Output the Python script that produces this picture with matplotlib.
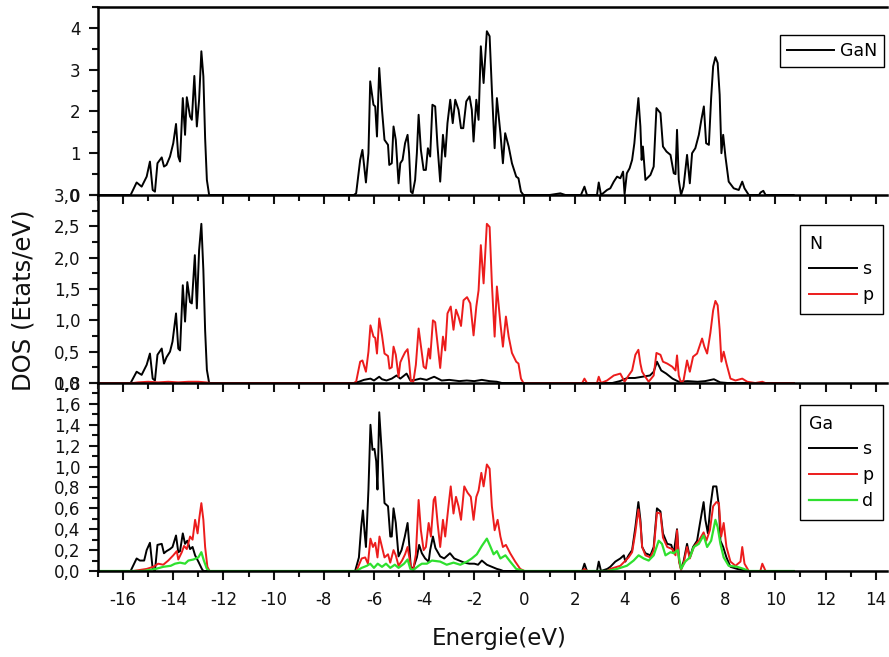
import numpy as np
import matplotlib
matplotlib.use('Agg')
import matplotlib.pyplot as plt
from matplotlib.ticker import MultipleLocator, FuncFormatter

plt.rcParams['font.family'] = ['DejaVu Sans']
plt.rcParams['axes.unicode_minus'] = False

# ---- data (energy in eV, DOS in states/eV) ----
gan_e = [-17, -15.7, -15.46, -15.26, -15.06, -14.93, -14.82, -14.73, -14.63, -14.46, -14.37, -14.27,
         -14.13, -14.0, -13.89, -13.8, -13.73, -13.62, -13.53, -13.46, -13.33, -13.26, -13.16, -13.06,
         -12.97, -12.88, -12.8, -12.73, -12.66, -12.57,
         -6.8, -6.71, -6.55, -6.46, -6.32, -6.22, -6.15, -6.02, -5.95, -5.88, -5.79, -5.68, -5.58, -5.44,
         -5.39, -5.29, -5.22, -5.13, -5.02, -4.95, -4.86, -4.76, -4.66, -4.6, -4.53, -4.46, -4.36, -4.29,
         -4.22, -4.13, -4.02, -3.93, -3.85, -3.76, -3.67, -3.56, -3.47, -3.36, -3.25, -3.16, -3.07, -2.96,
         -2.86, -2.76, -2.63, -2.53, -2.44, -2.32, -2.19, -2.1, -2.03, -1.92, -1.83, -1.74, -1.63, -1.5,
         -1.39, -1.3, -1.19, -1.1, -0.96, -0.86, -0.77, -0.63, -0.5, -0.33, -0.24, -0.14, -0.04,
         1.0, 1.43, 1.63, 2.25, 2.39, 2.49, 2.89, 2.96, 3.05, 3.29, 3.42, 3.56, 3.69, 3.82, 3.93, 3.99,
         4.08, 4.19, 4.29, 4.38, 4.46, 4.54, 4.62, 4.67, 4.72, 4.82, 5.02, 5.15, 5.26, 5.42, 5.52, 5.66,
         5.82, 5.95, 6.02, 6.08, 6.15, 6.24, 6.34, 6.48, 6.59, 6.68, 6.81, 6.95, 7.05, 7.15, 7.24, 7.35,
         7.44, 7.52, 7.61, 7.7, 7.78, 7.85, 7.92, 8.01, 8.14, 8.34, 8.54, 8.68, 8.77, 8.94, 9.35, 9.41,
         9.52, 9.61, 10.73]
gan_dos = [0, 0, 0.30, 0.20, 0.44, 0.80, 0.12, 0.08, 0.76, 0.90, 0.68, 0.72,
           0.92, 1.24, 1.70, 0.92, 0.80, 2.32, 1.44, 2.34, 1.88, 1.80, 2.85, 1.64,
           2.28, 3.44, 2.84, 1.36, 0.36, 0,
           0, 0.04, 0.84, 1.08, 0.30, 1.00, 2.72, 2.16, 2.12, 1.40, 3.04, 2.04, 1.32, 1.20,
           0.72, 0.76, 1.64, 1.32, 0.28, 0.76, 0.84, 1.24, 1.44, 1.00, 0.08, 0.04, 0.36, 1.00,
           1.92, 1.08, 0.60, 0.60, 1.12, 0.92, 2.16, 2.12, 1.20, 0.32, 1.44, 0.92, 1.72, 2.28,
           1.72, 2.28, 2.04, 1.60, 1.60, 2.24, 2.36, 2.04, 1.28, 2.28, 1.80, 3.56, 2.68, 3.92,
           3.80, 2.52, 1.12, 2.32, 1.48, 0.76, 1.48, 1.16, 0.76, 0.44, 0.40, 0.08, 0,
           0, 0.04, 0, 0, 0.20, 0, 0, 0.30, 0, 0.12, 0.16, 0.32, 0.44, 0.40, 0.56, 0.02,
           0.52, 0.64, 0.84, 1.24, 1.80, 2.32, 1.64, 0.84, 1.16, 0.36, 0.48, 0.68, 2.08, 1.96, 1.16, 1.04,
           0.96, 0.52, 0.50, 1.56, 0.36, 0, 0.20, 0.96, 0.28, 1.00, 1.12, 1.44, 1.80, 2.12, 1.24, 1.20,
           2.32, 3.08, 3.30, 3.16, 2.40, 1.00, 1.44, 0.92, 0.32, 0.16, 0.12, 0.32, 0.16, 0, 0, 0.06,
           0.10, 0, 0]

n_s_e = [-17, -15.7, -15.46, -15.26, -15.06, -14.93, -14.82, -14.73, -14.63, -14.46, -14.37, -14.27,
         -14.13, -14.03, -13.89, -13.8, -13.73, -13.62, -13.53, -13.44, -13.33, -13.26, -13.14, -13.06,
         -12.97, -12.88, -12.8, -12.73, -12.66, -12.57,
         -6.8, -6.6, -6.4, -6.14, -6.0, -5.79, -5.68, -5.5, -5.29, -5.1, -4.95, -4.7, -4.55, -4.35,
         -4.15, -3.9, -3.6, -3.3, -3.0, -2.6, -2.3, -2.0, -1.7, -1.4, -1.1, -0.9,
         3.5, 3.8, 4.1, 4.4, 4.7, 5.0, 5.15, 5.28, 5.45, 5.65, 5.9, 6.15, 6.5, 6.9, 7.2, 7.55, 7.8,
         8.1, 10.73]
n_s_dos = [0, 0, 0.18, 0.13, 0.29, 0.47, 0.07, 0.04, 0.45, 0.55, 0.31, 0.41,
           0.50, 0.66, 1.11, 0.55, 0.52, 1.56, 0.98, 1.61, 1.29, 1.27, 2.04, 1.19,
           2.12, 2.54, 1.80, 0.84, 0.21, 0,
           0, 0.02, 0.05, 0.07, 0.04, 0.10, 0.06, 0.04, 0.07, 0.12, 0.07, 0.15, 0.04, 0.05,
           0.07, 0.05, 0.10, 0.04, 0.05, 0.03, 0.04, 0.03, 0.05, 0.03, 0.02, 0,
           0, 0.03, 0.08, 0.08, 0.10, 0.12, 0.18, 0.34, 0.20, 0.15, 0.07, 0.02, 0.03, 0.02, 0.03, 0.06, 0.01,
           0, 0]

n_p_e = [-17, -15.6, -15.4, -15.0, -14.6, -14.2, -13.8, -13.4, -13.0, -12.7, -12.5,
         -6.8, -6.71, -6.55, -6.46, -6.32, -6.22, -6.14, -6.02, -5.95, -5.88, -5.79, -5.68, -5.58, -5.44,
         -5.38, -5.29, -5.22, -5.13, -5.02, -4.95, -4.86, -4.76, -4.66, -4.6, -4.53, -4.43, -4.33, -4.22,
         -4.13, -4.02, -3.93, -3.82, -3.76, -3.65, -3.56, -3.46, -3.36, -3.25, -3.16, -3.07, -2.94, -2.83,
         -2.73, -2.63, -2.53, -2.43, -2.29, -2.16, -2.03, -1.92, -1.83, -1.74, -1.63, -1.5, -1.39, -1.3,
         -1.19, -1.1, -0.96, -0.86, -0.74, -0.63, -0.5, -0.33, -0.24, -0.14, -0.04,
         2.3, 2.39, 2.49, 2.89, 2.96, 3.05, 3.29, 3.56, 3.82, 3.99, 4.15, 4.29, 4.42, 4.54, 4.62, 4.69,
         4.78, 4.95, 5.15, 5.26, 5.42, 5.52, 5.69, 5.89, 6.02, 6.08, 6.15, 6.24, 6.34, 6.48, 6.59, 6.72,
         6.88, 7.08, 7.17, 7.28, 7.41, 7.52, 7.61, 7.7, 7.78, 7.85, 7.94, 8.05, 8.21, 8.41, 8.68, 8.88,
         9.2, 9.48, 9.6, 10.73]
n_p_dos = [0, 0, 0.01, 0.02, 0.01, 0.02, 0.01, 0.02, 0.02, 0.01, 0,
           0, 0.02, 0.34, 0.36, 0.18, 0.50, 0.92, 0.74, 0.72, 0.47, 1.03, 0.76, 0.47, 0.43,
           0.23, 0.25, 0.58, 0.45, 0.10, 0.33, 0.41, 0.49, 0.54, 0.34, 0.03, 0.02, 0.29, 0.87,
           0.60, 0.26, 0.23, 0.55, 0.39, 1.00, 0.97, 0.60, 0.24, 0.74, 0.52, 1.11, 1.22, 0.85,
           1.17, 1.06, 0.91, 1.32, 1.37, 1.27, 0.76, 1.22, 1.48, 2.20, 1.59, 2.54, 2.49, 1.59,
           0.74, 1.54, 0.95, 0.58, 1.06, 0.74, 0.48, 0.34, 0.31, 0.07, 0,
           0, 0.07, 0, 0, 0.10, 0, 0.04, 0.12, 0.15, 0.02, 0.12, 0.20, 0.45, 0.53, 0.31, 0.18,
           0.12, 0.02, 0.12, 0.48, 0.45, 0.34, 0.31, 0.26, 0.20, 0.44, 0.12, 0, 0.04, 0.36, 0.18, 0.42,
           0.47, 0.71, 0.58, 0.47, 0.80, 1.16, 1.31, 1.24, 0.85, 0.34, 0.50, 0.31, 0.07, 0.04, 0.07, 0.02,
           0, 0.02, 0, 0]

ga_s_e = [-17, -15.7, -15.46, -15.33, -15.16, -15.06, -14.93, -14.82, -14.73, -14.63, -14.46, -14.37,
          -14.27, -14.13, -14.03, -13.89, -13.8, -13.73, -13.62, -13.53, -13.44, -13.33, -13.23, -13.13,
          -13.0, -12.86, -12.8,
          -6.75, -6.6, -6.51, -6.44, -6.37, -6.32, -6.22, -6.14, -6.06, -5.98, -5.91, -5.86, -5.79, -5.68,
          -5.58, -5.44, -5.35, -5.29, -5.22, -5.13, -5.02, -4.9, -4.77, -4.66, -4.6, -4.53, -4.43, -4.29,
          -4.2, -4.09, -3.96, -3.82, -3.76, -3.65, -3.55, -3.36, -3.2, -2.97, -2.8, -2.6, -2.4, -2.2,
          -2.0, -1.85, -1.7, -1.5, -1.3, -1.1, -0.95, -0.85,
          2.3, 2.39, 2.49, 2.89, 2.96, 3.05, 3.3, 3.42, 3.62, 3.82, 3.96, 4.02, 4.15, 4.29, 4.42, 4.54,
          4.62, 4.69, 4.82, 5.02, 5.15, 5.28, 5.42, 5.52, 5.69, 5.85, 5.95, 6.08, 6.16, 6.24, 6.34, 6.48,
          6.59, 6.72, 6.88, 6.99, 7.14, 7.21, 7.31, 7.41, 7.52, 7.65, 7.75, 7.81, 7.92, 8.05, 8.21, 8.48,
          8.88, 10.73]
ga_s_dos = [0, 0, 0.12, 0.10, 0.10, 0.20, 0.27, 0.02, 0, 0.25, 0.26, 0.17,
            0.19, 0.21, 0.23, 0.34, 0.18, 0.19, 0.36, 0.26, 0.29, 0.21, 0.23, 0.15,
            0.09, 0.02, 0,
            0, 0.13, 0.42, 0.58, 0.36, 0.23, 0.78, 1.40, 1.16, 1.17, 1.05, 0.78, 1.52, 1.10,
            0.65, 0.62, 0.33, 0.33, 0.60, 0.46, 0.14, 0.20, 0.33, 0.46, 0.27, 0.03, 0.03, 0.13,
            0.25, 0.17, 0.12, 0.09, 0.20, 0.33, 0.22, 0.14, 0.12, 0.17, 0.12, 0.10, 0.08, 0.07,
            0.07, 0.06, 0.10, 0.06, 0.04, 0.02, 0.01, 0,
            0, 0.07, 0, 0, 0.09, 0, 0.02, 0.04, 0.09, 0.12, 0.15, 0.09, 0.15, 0.20, 0.42, 0.66,
            0.49, 0.23, 0.17, 0.15, 0.23, 0.60, 0.57, 0.36, 0.26, 0.25, 0.17, 0.40, 0.10, 0.02, 0.09, 0.26,
            0.13, 0.23, 0.29, 0.45, 0.66, 0.49, 0.36, 0.62, 0.81, 0.81, 0.62, 0.29, 0.23, 0.13, 0.04, 0.02,
            0, 0]

ga_p_e = [-17, -15.6, -15.06, -14.8, -14.6, -14.4, -14.2, -14.0, -13.86, -13.8, -13.66, -13.57,
          -13.46, -13.33, -13.23, -13.13, -13.03, -12.96, -12.88, -12.8, -12.73, -12.64, -12.55,
          -6.7, -6.49, -6.35, -6.24, -6.14, -6.04, -5.95, -5.86, -5.78, -5.68, -5.58, -5.44, -5.35, -5.22,
          -5.13, -5.02, -4.88, -4.76, -4.66, -4.59, -4.52, -4.43, -4.33, -4.22, -4.13, -4.02, -3.93, -3.82,
          -3.73, -3.62, -3.56, -3.46, -3.36, -3.25, -3.16, -3.03, -2.94, -2.83, -2.73, -2.63, -2.53, -2.4,
          -2.27, -2.14, -2.03, -1.92, -1.83, -1.72, -1.63, -1.5, -1.39, -1.3, -1.19, -1.07, -0.96, -0.86,
          -0.74, -0.57, -0.37, -0.17, 0.0,
          2.3, 2.39, 2.5, 3.3, 3.42, 3.82, 4.15, 4.29, 4.42, 4.54, 4.62, 4.69, 4.82, 5.02, 5.15, 5.28,
          5.42, 5.52, 5.69, 5.89, 6.02, 6.08, 6.16, 6.24, 6.34, 6.48, 6.59, 6.75, 6.95, 7.14, 7.25, 7.39,
          7.52, 7.65, 7.75, 7.84, 7.94, 8.05, 8.21, 8.41, 8.61, 8.68, 8.77, 8.94, 9.4, 9.48, 9.61, 10.73]
ga_p_dos = [0, 0, 0.02, 0.04, 0.07, 0.06, 0.10, 0.15, 0.19, 0.11, 0.18, 0.24,
            0.21, 0.33, 0.30, 0.49, 0.36, 0.51, 0.65, 0.49, 0.23, 0.04, 0,
            0, 0.12, 0.13, 0.07, 0.31, 0.23, 0.27, 0.13, 0.33, 0.23, 0.13, 0.16, 0.08, 0.20,
            0.15, 0.05, 0.10, 0.16, 0.23, 0.13, 0.02, 0.02, 0.16, 0.68, 0.39, 0.20, 0.23, 0.46,
            0.33, 0.68, 0.71, 0.45, 0.23, 0.49, 0.33, 0.62, 0.81, 0.55, 0.71, 0.62, 0.49, 0.81,
            0.75, 0.71, 0.49, 0.71, 0.77, 0.94, 0.81, 1.02, 0.98, 0.62, 0.39, 0.49, 0.33, 0.23,
            0.25, 0.17, 0.09, 0.02, 0,
            0, 0.02, 0, 0, 0.02, 0.05, 0.13, 0.18, 0.37, 0.59, 0.46, 0.23, 0.15, 0.13, 0.20, 0.56,
            0.55, 0.32, 0.23, 0.21, 0.15, 0.39, 0.09, 0.01, 0.07, 0.23, 0.12, 0.23, 0.29, 0.37, 0.29, 0.39,
            0.62, 0.66, 0.65, 0.33, 0.46, 0.23, 0.09, 0.05, 0.09, 0.23, 0.07, 0, 0, 0.07, 0, 0]

ga_d_e = [-17, -15.2, -14.7, -14.4, -14.1, -13.93, -13.73, -13.53, -13.4, -13.2, -13.0, -12.88,
          -12.78, -12.66, -12.55,
          -6.7, -6.49, -6.28, -6.15, -6.0, -5.85, -5.68, -5.52, -5.35, -5.17, -5.02, -4.8, -4.66, -4.55,
          -4.43, -4.22, -4.09, -3.89, -3.69, -3.36, -3.1, -2.83, -2.56, -2.29, -2.1, -1.9, -1.7, -1.5,
          -1.37, -1.23, -1.1, -0.96, -0.76, -0.57, -0.33, 0.0,
          3.3, 3.69, 4.08, 4.35, 4.55, 4.75, 4.95, 5.15, 5.35, 5.48, 5.62, 5.82, 5.95, 6.11, 6.24, 6.41,
          6.59, 6.75, 6.95, 7.14, 7.28, 7.44, 7.61, 7.7, 7.81, 7.94, 8.14, 8.48, 8.74, 8.94, 10.73]
ga_d_dos = [0, 0, 0.02, 0.04, 0.05, 0.07, 0.08, 0.07, 0.10, 0.11, 0.13, 0.18,
            0.10, 0.02, 0,
            0, 0.03, 0.05, 0.07, 0.03, 0.07, 0.04, 0.07, 0.03, 0.06, 0.03, 0.07, 0.11, 0.02,
            0.01, 0.05, 0.07, 0.07, 0.10, 0.09, 0.06, 0.08, 0.06, 0.09, 0.12, 0.16, 0.24, 0.31,
            0.24, 0.16, 0.19, 0.12, 0.15, 0.09, 0.02, 0,
            0, 0.02, 0.05, 0.10, 0.15, 0.12, 0.10, 0.15, 0.29, 0.26, 0.15, 0.18, 0.17, 0.20, 0.02, 0.09,
            0.13, 0.23, 0.26, 0.34, 0.23, 0.29, 0.49, 0.42, 0.26, 0.13, 0.05, 0.04, 0.02, 0, 0]

RED = '#ec1c1c'
GREEN = '#2fe02f'

fig = plt.figure(figsize=(8.89, 6.57), dpi=100)
W, H = 889.0, 657.0
left, right = 98 / W, 887 / W
ph = 188 / H
ax_top = fig.add_axes([left, (H - 195) / H, right - left, ph])
ax_mid = fig.add_axes([left, (H - 383) / H, right - left, ph])
ax_bot = fig.add_axes([left, (H - 571) / H, right - left, ph])

ax_top.plot(gan_e, gan_dos, color='black', lw=1.4, label='GaN')

ax_mid.plot(n_s_e, n_s_dos, color='black', lw=1.4, label='s')
ax_mid.plot(n_p_e, n_p_dos, color=RED, lw=1.4, label='p')

ax_bot.plot(ga_s_e, ga_s_dos, color='black', lw=1.4, label='s')
ax_bot.plot(ga_p_e, ga_p_dos, color=RED, lw=1.4, label='p')
ax_bot.plot(ga_d_e, ga_d_dos, color=GREEN, lw=1.6, label='d')

comma1 = FuncFormatter(lambda v, p: f'{v:.1f}'.replace('.', ','))
int0 = FuncFormatter(lambda v, p: f'{v:.0f}')

settings = [(ax_top, 4.5, 1, 0.5, int0),
            (ax_mid, 3.0, 0.5, 0.25, comma1),
            (ax_bot, 1.8, 0.2, 0.1, comma1)]
for ax, ymax, ymaj, ymin, fmt in settings:
    ax.set_xlim(-17, 14.45)
    ax.set_ylim(0, ymax)
    ax.xaxis.set_major_locator(MultipleLocator(2))
    ax.xaxis.set_minor_locator(MultipleLocator(1))
    ax.yaxis.set_major_locator(MultipleLocator(ymaj))
    ax.yaxis.set_minor_locator(MultipleLocator(ymin))
    ax.yaxis.set_major_formatter(fmt)
    ax.tick_params(axis='both', which='both', direction='out', width=1.5,
                   top=False, right=False, labelsize=12, colors='#111111')
    ax.tick_params(axis='both', which='major', length=6.5)
    ax.tick_params(axis='both', which='minor', length=4)
    ax.tick_params(axis='y', pad=6)
    ax.tick_params(axis='x', labelbottom=False)
    ax.spines['right'].set_visible(False)
    ax.spines['top'].set_visible(False)
    for s in ('left', 'bottom'):
        ax.spines[s].set_linewidth(1.8)
    ax.patch.set_alpha(0)

ax_top.spines['top'].set_visible(True)
ax_top.spines['top'].set_linewidth(1.8)
ax_bot.tick_params(axis='x', labelbottom=True, pad=8)
ax_bot.set_zorder(0)
ax_mid.set_zorder(1)
ax_top.set_zorder(2)

leg_kw = dict(frameon=True, fancybox=False, edgecolor='black', framealpha=1,
              borderaxespad=0, handlelength=2.75, handletextpad=0.3, fontsize=12.5)
lg = ax_top.legend(loc='upper right', bbox_to_anchor=(0.996, 0.851), borderpad=0.4,
                   labelspacing=0.35, **leg_kw)
lg.get_frame().set_linewidth(1.0)
lg = ax_mid.legend(loc='upper right', bbox_to_anchor=(0.995, 0.84), title='N', borderpad=0.55,
                   labelspacing=0.45, title_fontsize=12.5, alignment='left', **leg_kw)
lg.get_frame().set_linewidth(1.0)
lg = ax_bot.legend(loc='upper right', bbox_to_anchor=(0.995, 0.883), title='Ga', borderpad=0.55,
                   labelspacing=0.45, title_fontsize=12.5, alignment='left', **leg_kw)
lg.get_frame().set_linewidth(1.0)

fig.text(24 / W, 1 - 300 / H, 'DOS (Etats/eV)', rotation=90, ha='center', va='center',
         fontsize=17.5, color='#111111')
fig.text(499 / W, 1 - 638 / H, 'Energie(eV)', ha='center', va='center',
         fontsize=16.5, color='#111111')

fig.savefig('out.png', dpi=100)
